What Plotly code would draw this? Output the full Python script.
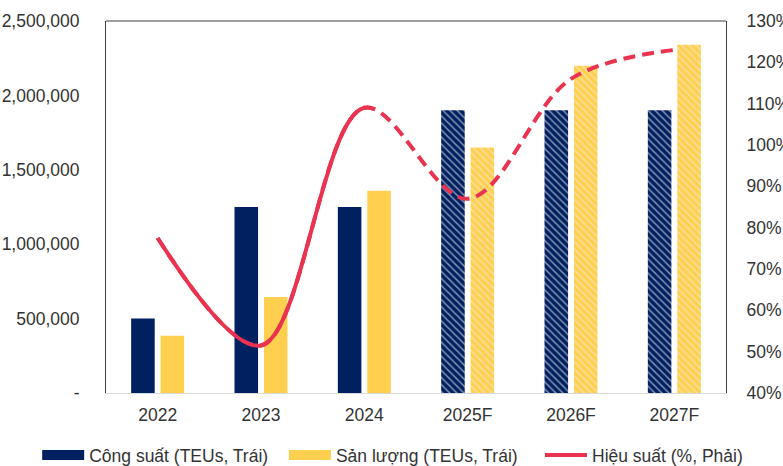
import plotly.graph_objects as go

categories = ["2022", "2023", "2024", "2025F", "2026F", "2027F"]
capacity = [500000, 1250000, 1250000, 1900000, 1900000, 1900000]
output = [385000, 645000, 1360000, 1650000, 2200000, 2340000]
efficiency = [77.5, 51.5, 109, 87, 116, 123]
forecast_flags = [False, False, False, True, True, True]

left_tickvals = [0, 500000, 1000000, 1500000, 2000000, 2500000]
left_ticktext = ["-", "500,000", "1,000,000", "1,500,000", "2,000,000", "2,500,000"]
right_tickvals = [40, 50, 60, 70, 80, 90, 100, 110, 120, 130]
right_ticktext = ["40%", "50%", "60%", "70%", "80%", "90%", "100%", "110%", "120%", "130%"]

names = ["Công suất (TEUs, Trái)", "Sản lượng (TEUs, Trái)", "Hiệu suất (%, Phải)"]

NAVY = "#002060"
YELLOW = "#FFD04F"
RED = "#EA3350"
FONT = "Liberation Sans, Arial, sans-serif"
TXT = "#333333"
FS = 17.5

shapes_pat = ["\\" if f else "" for f in forecast_flags]

fig = go.Figure()
fig.add_trace(go.Bar(
    x=categories, y=capacity, name=names[0], showlegend=False,
    marker=dict(color=NAVY, line=dict(width=0),
                pattern=dict(shape=shapes_pat, fgcolor="white", size=5, solidity=0.3)),
    xaxis="x", yaxis="y"))
fig.add_trace(go.Bar(
    x=categories, y=output, name=names[1], showlegend=False,
    marker=dict(color=YELLOW, line=dict(width=0),
                pattern=dict(shape=shapes_pat, fgcolor="#EDEDED", size=5, solidity=0.3)),
    xaxis="x", yaxis="y"))

# dashed efficiency line (full), on right axis
fig.add_trace(go.Scatter(
    x=categories, y=efficiency, mode="lines", showlegend=False,
    line=dict(color=RED, width=4, dash="12px,7px", shape="spline", smoothing=1),
    xaxis="x", yaxis="y2"))
# solid overlay for the actual years (clipped by a narrower subplot)
d = 2.585 / 6
fig.add_trace(go.Scatter(
    x=categories, y=efficiency, mode="lines", showlegend=False,
    line=dict(color=RED, width=4, shape="spline", smoothing=1),
    xaxis="x3", yaxis="y3"))

# legend entries (one legend each, so they sit on one row)
for nm, col, w, lg in [(names[0], NAVY, 11, "legend"), (names[1], YELLOW, 11, "legend2"),
                       (names[2], RED, 4, "legend3")]:
    fig.add_trace(go.Scatter(x=[None], y=[None], mode="lines", name=nm, legend=lg,
                             line=dict(color=col, width=w), xaxis="x", yaxis="y"))

def leg(x):
    return dict(orientation="h", x=x, xanchor="left", y=-0.1667, yanchor="middle",
                itemwidth=42, font=dict(family=FONT, size=FS, color=TXT),
                itemclick=False, bgcolor="rgba(0,0,0,0)", borderwidth=0)

fig.update_layout(
    width=783, height=466,
    margin=dict(l=106, r=57, t=21, b=73, autoexpand=False),
    paper_bgcolor="white", plot_bgcolor="rgba(0,0,0,0)",
    font=dict(family=FONT, size=FS, color=TXT),
    barmode="group", bargap=0.43, bargroupgap=0.2,
    showlegend=True,
    legend=leg(-0.111), legend2=leg(0.287), legend3=leg(0.700),
    xaxis=dict(domain=[0, 1], type="category", categoryorder="array", categoryarray=categories,
               range=[-0.5, 5.5], showline=True, linecolor="#D9D9D9", linewidth=1,
               showgrid=False, ticks="", ticklabelstandoff=6, zeroline=False, automargin=False),
    yaxis=dict(range=[0, 2500000], tickvals=left_tickvals, ticktext=left_ticktext,
               showgrid=False, showline=True, linecolor="#404040", linewidth=1,
               ticks="", ticklabelstandoff=22, zeroline=False, automargin=False),
    yaxis2=dict(range=[40, 130], overlaying="y", side="right", tickvals=right_tickvals,
                ticktext=right_ticktext, showgrid=False, showline=True, linecolor="#404040",
                linewidth=1, ticks="", ticklabelstandoff=16, zeroline=False, automargin=False),
    xaxis3=dict(domain=[0, d], anchor="y3", type="category", categoryorder="array",
                categoryarray=categories, range=[-0.5, 2.085], visible=False),
    yaxis3=dict(domain=[0, 1], anchor="x3", range=[40, 130], visible=False),
    shapes=[dict(type="line", xref="paper", yref="paper", x0=0, x1=1, y0=1, y1=1,
                 line=dict(color="#404040", width=1))],
)

fig.write_html("out.html", config={"displayModeBar": False},
               post_script="document.body.style.margin='0';document.body.style.overflow='hidden';")
